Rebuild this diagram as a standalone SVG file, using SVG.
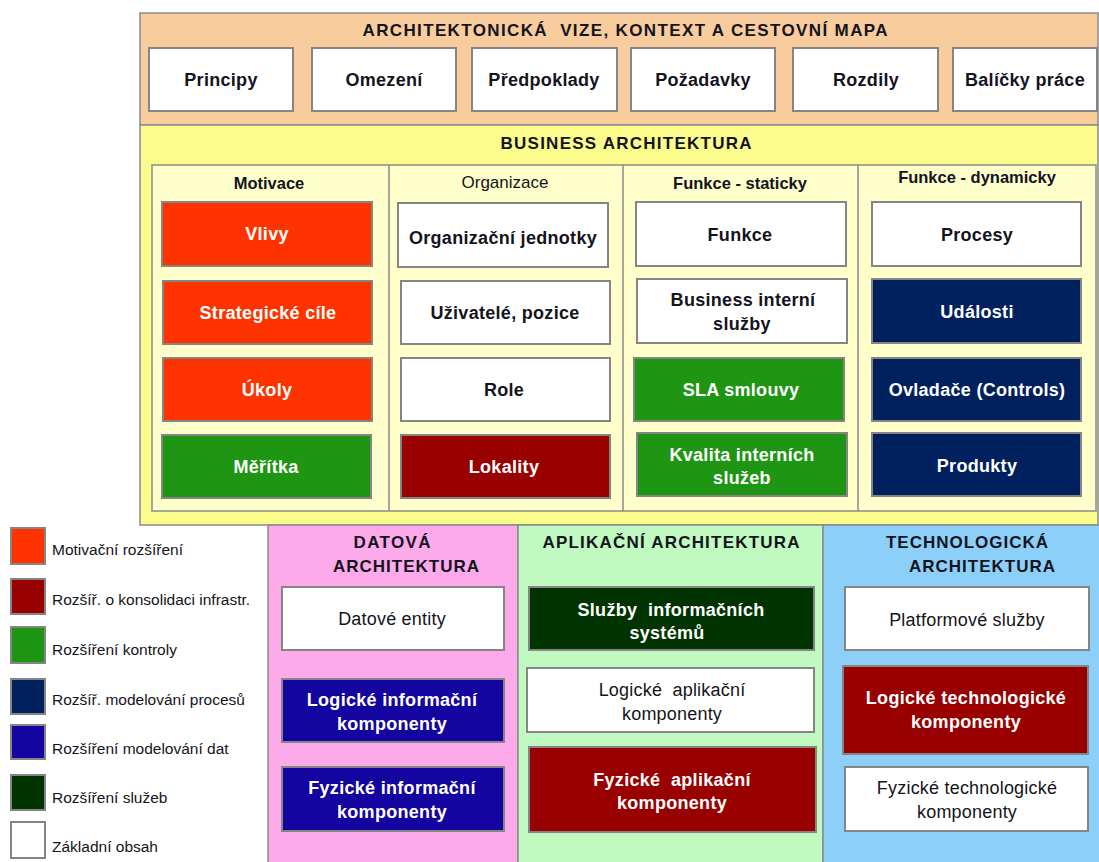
<svg xmlns="http://www.w3.org/2000/svg" width="1099" height="862" viewBox="0 0 1099 862">
<style>
text{font-family:"Liberation Sans",Arial,sans-serif;fill:#141420;white-space:pre}
.t{font-weight:bold;font-size:17px;text-anchor:middle}
.h{font-weight:bold;font-size:16.5px;text-anchor:middle}
.b{font-weight:bold;font-size:18px;text-anchor:middle;letter-spacing:0.3px}
.n{font-weight:normal;letter-spacing:0.2px}
.w{fill:#fff}
.lg{font-size:15.5px}
.bx{stroke:#858585;stroke-width:2}
.fr{stroke:#8a8a8a;stroke-width:1.5}
.white{fill:#fff}.red{fill:#FF3300}.dred{fill:#990000}.grn{fill:#1E9614}.navy{fill:#00205E}.blue{fill:#1404A0}.dgrn{fill:#003300}
</style>
<rect width="1099" height="862" fill="#fff"/>
<g id="vize">
<rect class="fr" x="140" y="13" width="958" height="112" fill="#F9CC9D"/>
<text class="t" x="625" y="36" textLength="525" lengthAdjust="spacing">ARCHITEKTONICKÁ  VIZE, KONTEXT A CESTOVNÍ MAPA</text>
</g>
<g id="principy"><rect class="bx white" x="149" y="48" width="144" height="63"/><text class="b" x="221" y="86">Principy</text></g>
<g id="omezeni"><rect class="bx white" x="312" y="48" width="144" height="63"/><text class="b" x="384" y="86">Omezení</text></g>
<g id="predpoklady"><rect class="bx white" x="472" y="48" width="145" height="63"/><text class="b" x="544" y="86">Předpoklady</text></g>
<g id="pozadavky"><rect class="bx white" x="631" y="48" width="144" height="63"/><text class="b" x="703" y="86">Požadavky</text></g>
<g id="rozdily"><rect class="bx white" x="793" y="48" width="145" height="63"/><text class="b" x="866" y="86">Rozdily</text></g>
<g id="balicky"><rect class="bx white" x="953" y="48" width="144" height="63"/><text class="b" x="1025" y="86">Balíčky práce</text></g>

<g id="business">
<rect class="fr" x="140" y="125" width="958" height="400" fill="#FCFC8C"/>
<text class="t" x="626" y="149" textLength="251" lengthAdjust="spacing">BUSINESS ARCHITEKTURA</text>
<rect class="fr" x="152" y="165" width="944" height="346" fill="#FFFFCC"/>
<line class="fr" x1="389" y1="165" x2="389" y2="511"/>
<line class="fr" x1="623" y1="165" x2="623" y2="511"/>
<line class="fr" x1="858" y1="165" x2="858" y2="511"/>
<text class="h" x="269" y="189">Motivace</text>
<text class="h" x="505" y="188" style="font-weight:normal;font-size:17px">Organizace</text>
<text class="h" x="740" y="189">Funkce - staticky</text>
<text class="h" x="977" y="183">Funkce - dynamicky</text>
</g>
<g id="vlivy"><rect class="bx red" x="162" y="202" width="210" height="64"/><text class="b w" x="267" y="240">Vlivy</text></g>
<g id="strategicke"><rect class="bx red" x="163" y="281" width="209" height="63"/><text class="b w" x="268" y="319">Strategické cíle</text></g>
<g id="ukoly"><rect class="bx red" x="163" y="358" width="209" height="63"/><text class="b w" x="267" y="396">Úkoly</text></g>
<g id="meritka"><rect class="bx grn" x="162" y="435" width="209" height="63"/><text class="b w" x="266" y="473">Měřítka</text></g>

<g id="orgjednotky"><rect class="bx white" x="398" y="203" width="210" height="64"/><text class="b" x="503" y="244">Organizační jednotky</text></g>
<g id="uzivatele"><rect class="bx white" x="401" y="281" width="209" height="63"/><text class="b" x="505" y="319">Uživatelé, pozice</text></g>
<g id="role"><rect class="bx white" x="401" y="358" width="209" height="63"/><text class="b" x="504" y="396">Role</text></g>
<g id="lokality"><rect class="bx dred" x="401" y="435" width="209" height="63"/><text class="b w" x="504" y="473">Lokality</text></g>

<g id="funkce"><rect class="bx white" x="636" y="202" width="210" height="64"/><text class="b" x="740" y="241">Funkce</text></g>
<g id="businesssluzby"><rect class="bx white" x="637" y="279" width="210" height="64"/><text class="b" x="743" y="306">Business interní</text><text class="b" x="742" y="330">služby</text></g>
<g id="sla"><rect class="bx grn" x="634" y="358" width="210" height="63"/><text class="b w" x="741" y="396">SLA smlouvy</text></g>
<g id="kvalita"><rect class="bx grn" x="637" y="433" width="210" height="63"/><text class="b w" x="742" y="461">Kvalita interních</text><text class="b w" x="742" y="484">služeb</text></g>

<g id="procesy"><rect class="bx white" x="872" y="202" width="209" height="64"/><text class="b" x="977" y="241">Procesy</text></g>
<g id="udalosti"><rect class="bx navy" x="872" y="279" width="209" height="64"/><text class="b w" x="977" y="318">Události</text></g>
<g id="ovladace"><rect class="bx navy" x="872" y="358" width="209" height="63"/><text class="b w" x="977" y="396">Ovladače (Controls)</text></g>
<g id="produkty"><rect class="bx navy" x="872" y="433" width="209" height="63"/><text class="b w" x="977" y="472">Produkty</text></g>

<g id="datova">
<rect class="fr" x="268" y="525" width="250" height="340" fill="#FCAAEA"/>
<text class="t" x="392" y="548" textLength="77" lengthAdjust="spacing">DATOVÁ</text>
<text class="t" x="406" y="572" textLength="146" lengthAdjust="spacing">ARCHITEKTURA</text>
</g>
<g id="aplikacni">
<rect class="fr" x="518" y="525" width="305" height="340" fill="#C0FAC0"/>
<text class="t" x="671" y="548" textLength="257" lengthAdjust="spacing">APLIKAČNÍ ARCHITEKTURA</text>
</g>
<g id="technologicka">
<rect class="fr" x="823" y="525" width="278" height="340" fill="#8CD0FA"/>
<text class="t" x="967" y="548" textLength="162" lengthAdjust="spacing">TECHNOLOGICKÁ</text>
<text class="t" x="982" y="572" textLength="146" lengthAdjust="spacing">ARCHITEKTURA</text>
</g>

<g id="datoveentity"><rect class="bx white" x="282" y="587" width="222" height="63"/><text class="b n" x="392" y="625">Datové entity</text></g>
<g id="logickeinf"><rect class="bx blue" x="282" y="679" width="222" height="63"/><text class="b w" x="392" y="706">Logické informační</text><text class="b w" x="392" y="730">komponenty</text></g>
<g id="fyzickeinf"><rect class="bx blue" x="282" y="767" width="222" height="64"/><text class="b w" x="392" y="794">Fyzické informační</text><text class="b w" x="392" y="818">komponenty</text></g>

<g id="sluzbyis"><rect class="bx dgrn" x="529" y="587" width="285" height="63"/><text class="b w" x="671" y="616">Služby  informačních</text><text class="b w" x="667" y="639">systémů</text></g>
<g id="logickeapl"><rect class="bx white" x="527" y="668" width="287" height="64"/><text class="b n" x="672" y="696">Logické  aplikační</text><text class="b n" x="672" y="720">komponenty</text></g>
<g id="fyzickeapl"><rect class="bx dred" x="529" y="747" width="287" height="85"/><text class="b w" x="672" y="786">Fyzické  aplikační</text><text class="b w" x="672" y="809">komponenty</text></g>

<g id="platformove"><rect class="bx white" x="845" y="587" width="244" height="63"/><text class="b n" x="967" y="626">Platformové služby</text></g>
<g id="logicketech"><rect class="bx dred" x="843" y="666" width="245" height="88"/><text class="b w" x="966" y="704">Logické technologické</text><text class="b w" x="966" y="728">komponenty</text></g>
<g id="fyzicketech"><rect class="bx white" x="845" y="767" width="243" height="64"/><text class="b n" x="967" y="794">Fyzické technologické</text><text class="b n" x="967" y="818">komponenty</text></g>

<g id="legenda">
<rect class="bx red" x="11" y="528" width="34" height="36"/><text class="lg" x="52" y="555">Motivační rozšíření</text>
<rect class="bx dred" x="11" y="579" width="34" height="35"/><text class="lg" x="52" y="605">Rozšíř. o konsolidaci infrastr.</text>
<rect class="bx grn" x="11" y="627" width="34" height="36"/><text class="lg" x="52" y="655">Rozšíření kontroly</text>
<rect class="bx navy" x="11" y="679" width="34" height="35"/><text class="lg" x="52" y="705">Rozšíř. modelování procesů</text>
<rect class="bx blue" x="11" y="725" width="34" height="34"/><text class="lg" x="52" y="754">Rozšíření modelování dat</text>
<rect class="bx dgrn" x="11" y="775" width="34" height="35"/><text class="lg" x="52" y="803">Rozšíření služeb</text>
<rect class="bx white" x="11" y="822" width="34" height="36"/><text class="lg" x="52" y="852">Základní obsah</text>
</g>
</svg>
